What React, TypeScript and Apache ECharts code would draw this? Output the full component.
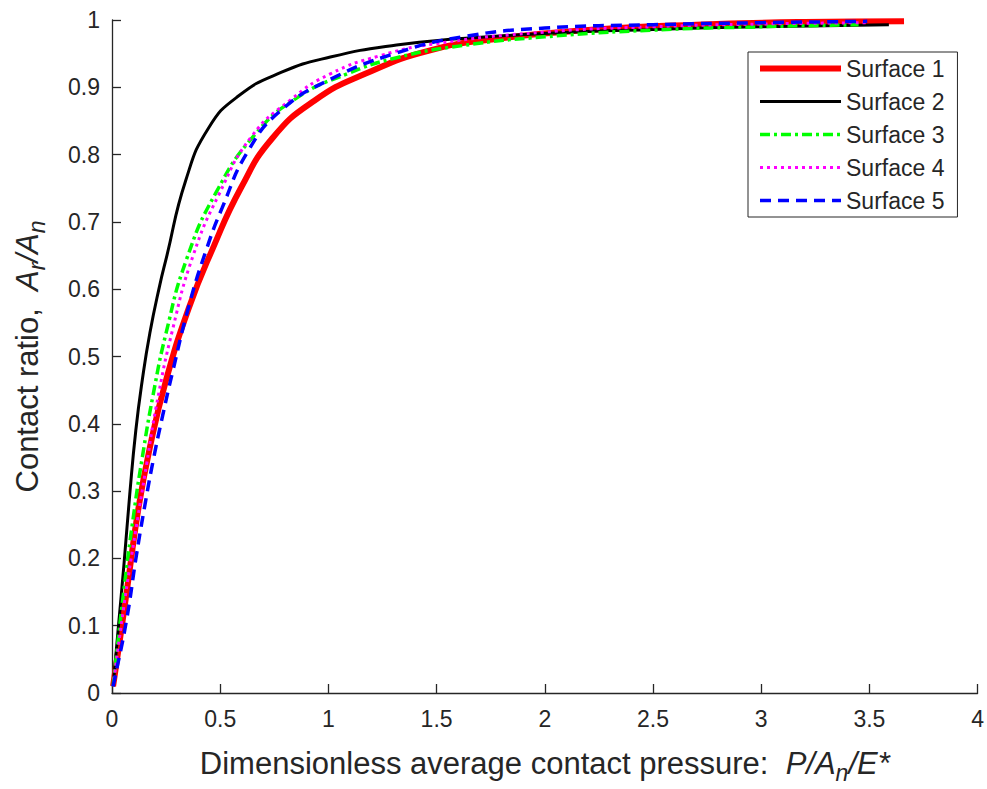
import React, { useEffect, useRef } from "react";
import * as echarts from "echarts";

const seriesNames = ["Surface 1", "Surface 2", "Surface 3", "Surface 4", "Surface 5"];

const surface1: number[][] = [
  [0.005, 0.01], [0.03, 0.065], [0.07, 0.155], [0.12, 0.27], [0.175, 0.365], [0.25, 0.465],
  [0.355, 0.572], [0.465, 0.66], [0.595, 0.75], [0.74, 0.824], [0.935, 0.88], [1.17, 0.92],
  [1.47, 0.955], [1.8, 0.973], [2.2, 0.985], [2.7, 0.993], [3.2, 0.997], [3.66, 0.998],
];
const surface2: number[][] = [
  [0.005, 0.01], [0.03, 0.1], [0.055, 0.19], [0.082, 0.295], [0.11, 0.39], [0.14, 0.465],
  [0.175, 0.535], [0.22, 0.605], [0.25, 0.645], [0.341, 0.762], [0.447, 0.84], [0.584, 0.887],
  [0.781, 0.922], [1.009, 0.945], [1.315, 0.963], [1.6, 0.972], [2.0, 0.98], [2.5, 0.986],
  [3.0, 0.99], [3.59, 0.993],
];
const surface3: number[][] = [
  [0.005, 0.01], [0.05, 0.14], [0.1, 0.265], [0.14, 0.35], [0.19, 0.443], [0.25, 0.535],
  [0.343, 0.643], [0.478, 0.742], [0.661, 0.83], [0.858, 0.885], [1.087, 0.92], [1.315, 0.944],
  [1.62, 0.962], [2.0, 0.975], [2.5, 0.985], [3.0, 0.99], [3.45, 0.993],
];
const surface4: number[][] = [
  [0.005, 0.01], [0.06, 0.14], [0.12, 0.262], [0.16, 0.34], [0.204, 0.425], [0.28, 0.54],
  [0.375, 0.65], [0.493, 0.74], [0.645, 0.827], [0.828, 0.882], [1.009, 0.92], [1.239, 0.947],
  [1.5, 0.965], [2.0, 0.982], [2.5, 0.99], [3.0, 0.994], [3.49, 0.996],
];
const surface5: number[][] = [
  [0.005, 0.01], [0.015, 0.025], [0.067, 0.108], [0.113, 0.205], [0.158, 0.29], [0.19, 0.345],
  [0.234, 0.412], [0.28, 0.477], [0.356, 0.576], [0.432, 0.655], [0.508, 0.72], [0.63, 0.806],
  [0.782, 0.866], [1.01, 0.912], [1.315, 0.951], [1.62, 0.975], [2.0, 0.988], [2.5, 0.993],
  [3.0, 0.996], [3.49, 0.998],
];

const seriesData = [surface1, surface2, surface3, surface4, surface5];
const seriesColors = ["#ff0000", "#000000", "#00ff00", "#ff00ff", "#0000ff"];
const seriesWidths = [6, 3, 3.5, 3, 3.5];
const seriesDash: any[] = ["solid", "solid", [10, 4, 3, 4], [3, 4], [11, 7]];

const xRange = [0, 4];
const xStep = 0.5;
const yRange = [0, 1];
const yStep = 0.1;

const FONT = "'Liberation Sans', Arial, Helvetica, sans-serif";
const INK = "#262626";

export default function App() {
  const ref = useRef<HTMLDivElement>(null);
  useEffect(() => {
    const chart = echarts.init(ref.current!, null, { renderer: "svg" });
    const titleRich = {
      i: { fontStyle: "italic", fontSize: 31, color: INK, fontFamily: FONT },
      s: { fontStyle: "italic", fontSize: 23, color: INK, fontFamily: FONT, padding: [18, 0, 0, 0] },
    };
    chart.setOption({
      animation: false,
      backgroundColor: "#ffffff",
      textStyle: { fontFamily: FONT },
      grid: { left: 112, right: 2, top: 20, bottom: 93, containLabel: false },
      legend: {
        orient: "vertical",
        left: 748,
        top: 52,
        padding: [5, 13, 5, 9],
        itemGap: 10,
        itemWidth: 81,
        itemHeight: 14,
        borderColor: INK,
        borderWidth: 1,
        borderRadius: 0,
        backgroundColor: "#ffffff",
        itemStyle: { opacity: 0 },
        textStyle: { fontSize: 23, color: INK, fontFamily: FONT },
        data: seriesNames.map((name, i) => ({
          name,
          itemStyle: { opacity: 0 },
          lineStyle: { color: seriesColors[i], width: seriesWidths[i], type: seriesDash[i] },
        })),
      },
      xAxis: {
        type: "value",
        min: xRange[0],
        max: xRange[1],
        interval: xStep,
        name: "Dimensionless average contact pressure:  {i|P/A}{s|n}{i|/E*}",
        nameLocation: "middle",
        nameGap: 50,
        nameTextStyle: { fontSize: 31, color: INK, fontFamily: FONT, rich: titleRich },
        axisLine: { show: true, lineStyle: { color: INK, width: 1.3 } },
        axisTick: { show: true, inside: true, length: 9, lineStyle: { color: INK, width: 1.3 } },
        axisLabel: { fontSize: 23, color: INK, margin: 14, fontFamily: FONT },
        splitLine: { show: false },
      },
      yAxis: {
        type: "value",
        min: yRange[0],
        max: yRange[1],
        interval: yStep,
        name: "Contact ratio,  {i|A}{s|r}{i|/A}{s|n}",
        nameLocation: "middle",
        nameRotate: 90,
        nameGap: 64,
        nameTextStyle: { fontSize: 31, color: INK, fontFamily: FONT, rich: titleRich },
        axisLine: { show: true, lineStyle: { color: INK, width: 1.3 } },
        axisTick: { show: true, inside: true, length: 9, lineStyle: { color: INK, width: 1.3 } },
        axisLabel: { fontSize: 23, color: INK, margin: 12, fontFamily: FONT },
        splitLine: { show: false },
      },
      series: seriesNames.map((name, i) => ({
        name,
        type: "line",
        data: seriesData[i],
        symbol: "none",
        smooth: 0.5,
        color: seriesColors[i],
        lineStyle: { color: seriesColors[i], width: seriesWidths[i], type: seriesDash[i] },
        z: 2 + i,
      })),
    });
    return () => chart.dispose();
  }, []);
  return (
    <div
      ref={ref}
      style={{ position: "fixed", left: 0, top: 0, width: 987, height: 789, background: "#ffffff" }}
    />
  );
}
